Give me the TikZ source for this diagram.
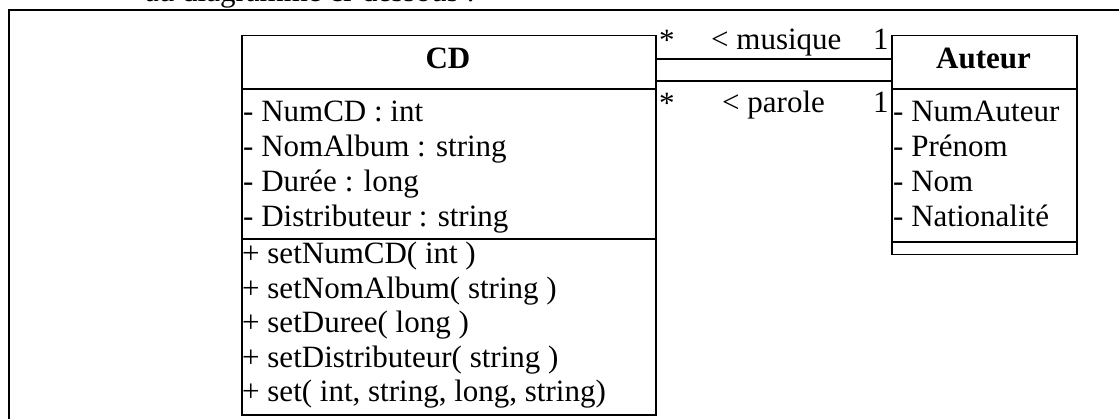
\documentclass[tikz,border=0pt]{standalone}
\usepackage{fontspec}
\setmainfont{Liberation Serif}
\begin{document}
\begin{tikzpicture}[x=1pt,y=-1pt,
  box/.style={draw,line width=1.5pt,inner sep=0pt,anchor=north west},
  sep/.style={line width=1.5pt},
  frame/.style={line width=2.2pt},
  txt/.style={anchor=base west,inner sep=0pt,font=\fontsize{31}{35}\selectfont},
  ttl/.style={anchor=base,inner sep=0pt,font=\fontsize{31}{35}\selectfont\bfseries},
  assoc/.style={line width=1.5pt}]
\useasboundingbox (0,0) rectangle (1119,419);
\clip (0,0) rectangle (1119,419);
% cut-off intro text and outer frame
\node[txt] (intro) at (145,1.5) {au diagramme ci-dessous :};
\draw[frame] (9,440) -- (9,10) -- (1140,10);
% CD class
\node[box,minimum width=414pt,minimum height=379pt] (cd) at (241,35) {};
\draw[sep] (241,89) -- (655,89);
\draw[sep] (241,239) -- (655,239);
\node[ttl] (cdt) at (448,69) {CD};
\node[txt] (a1) at (243,122) {- NumCD : int};
\node[txt] (a2) at (243,157) {- NomAlbum : string};
\node[txt] (a3) at (243,192) {- Durée : long};
\node[txt] (a4) at (243,227) {- Distributeur : string};
\node[txt] (m1) at (242,264) {+ setNumCD( int )};
\node[txt] (m2) at (242,298.5) {+ setNomAlbum( string )};
\node[txt] (m3) at (242,333) {+ setDuree( long )};
\node[txt] (m4) at (242,367.5) {+ setDistributeur( string )};
\node[txt] (m5) at (242,402) {+ set( int, string, long, string)};
% Auteur class
\node[box,minimum width=185pt,minimum height=219pt] (au) at (891,35) {};
\draw[sep] (891,89) -- (1076,89);
\draw[sep] (891,242) -- (1076,242);
\node[ttl] (aut) at (983.5,69) {Auteur};
\node[txt] (b1) at (893,122) {- NumAuteur};
\node[txt] (b2) at (893,157) {- Prénom};
\node[txt] (b3) at (893,192) {- Nom};
\node[txt] (b4) at (893,227) {- Nationalité};
% associations
\draw[assoc] (cd.east |- 0,59) -- (au.west |- 0,59);
\draw[assoc] (cd.east |- 0,81) -- (au.west |- 0,81);
\node[txt] (s1) at (659,51) {*};
\node[txt] (l1) at (711,50) {< musique};
\node[txt] (o1) at (873,50) {1};
\node[txt] (s2) at (659,114) {*};
\node[txt] (l2) at (722,113) {< parole};
\node[txt] (o2) at (873,113) {1};
\end{tikzpicture}
\end{document}
